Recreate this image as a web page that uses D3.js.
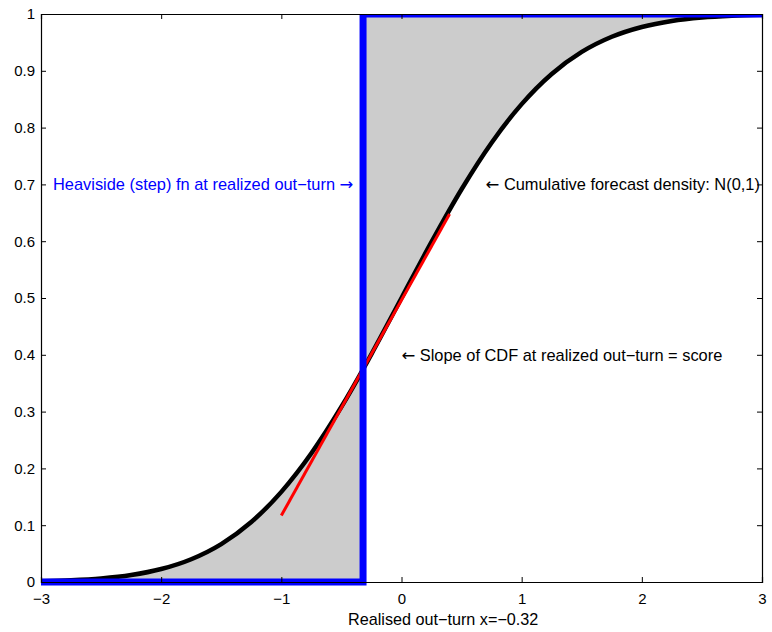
<!DOCTYPE html>
<html>
<head>
<meta charset="utf-8">
<script src="https://cdn.jsdelivr.net/npm/d3@7"></script>
<style>
  html, body { margin: 0; padding: 0; background: #fff; }
  svg { display: block; font-family: "Liberation Sans", Arial, Helvetica, sans-serif; }
  .arrow { font-family: "DejaVu Sans", sans-serif; }
</style>
</head>
<body>
<svg id="chart" width="772" height="632"></svg>
<script>
// Standard normal forecast CDF, sampled on the horizontal grid
const gridX = [-3, -2.75, -2.5, -2.25, -2, -1.75, -1.5, -1.25, -1, -0.75, -0.5, -0.25,
               0, 0.25, 0.5, 0.75, 1, 1.25, 1.5, 1.75, 2, 2.25, 2.5, 2.75, 3];
const cdfValues = [0.0013, 0.0030, 0.0062, 0.0122, 0.0228, 0.0401, 0.0668, 0.1056, 0.1587,
                   0.2266, 0.3085, 0.4013, 0.5, 0.5987, 0.6915, 0.7734, 0.8413, 0.8944,
                   0.9332, 0.9599, 0.9772, 0.9878, 0.9938, 0.9970, 0.9987];

// Realised out-turn and the forecast CDF there
const outturn = -0.32;
const cdfAtOutturn = 0.3745;

// Tangent (slope of CDF at the out-turn)
const tangentX = [-1.0, 0.4];
const tangentY = [0.117, 0.648];

// Axis ticks
const xTicks = [-3, -2, -1, 0, 1, 2, 3];
const yTicks = [0, 0.1, 0.2, 0.3, 0.4, 0.5, 0.6, 0.7, 0.8, 0.9, 1];

// Annotations: arrow glyph before/after the text
const notes = [
  { x: -2.9, y: 0.7, pre: "", text: "Heaviside (step) fn at realized out\u2212turn ", post: "\u2192", color: "#0000ff" },
  { x: 0.7,  y: 0.7, pre: "\u2190", text: " Cumulative forecast density: N(0,1)", post: "", color: "#000" },
  { x: 0.0,  y: 0.4, pre: "\u2190", text: " Slope of CDF at realized out\u2212turn = score", post: "", color: "#000" }
];
const xTitle = "Realised out\u2212turn x=\u22120.32";

const W = 772, H = 632;
const margin = { left: 41, top: 14, right: 10, bottom: 50 };
const svg = d3.select("#chart");

const x = d3.scaleLinear().domain([-3, 3]).range([margin.left, W - margin.right]);
const y = d3.scaleLinear().domain([0, 1]).range([H - margin.bottom, margin.top]);

const pts = gridX.map((v, i) => [v, cdfValues[i]]);
const leftPts = pts.filter(p => p[0] < outturn).concat([[outturn, cdfAtOutturn]]);
const rightPts = [[outturn, cdfAtOutturn]].concat(pts.filter(p => p[0] > outturn));
const allPts = leftPts.concat(rightPts.slice(1));

const curve = d3.curveMonotoneX;

// clip so thick lines stay inside the box at the top/sides
svg.append("defs").append("clipPath").attr("id", "plotclip")
  .append("rect")
  .attr("x", x(-3)).attr("y", y(1))
  .attr("width", x(3) - x(-3)).attr("height", y(0) - y(1) + 4);

const plot = svg.append("g").attr("clip-path", "url(#plotclip)");

// shaded area between the CDF and the step function
plot.append("path")
  .attr("d", d3.area().curve(curve).x(d => x(d[0])).y0(y(0)).y1(d => y(d[1]))(leftPts))
  .attr("fill", "#cccccc");
plot.append("path")
  .attr("d", d3.area().curve(curve).x(d => x(d[0])).y0(d => y(d[1])).y1(y(1))(rightPts))
  .attr("fill", "#cccccc");

// forecast CDF
plot.append("path")
  .attr("d", d3.line().curve(curve).x(d => x(d[0])).y(d => y(d[1]))(allPts))
  .attr("fill", "none").attr("stroke", "#000").attr("stroke-width", 4.5)
  .attr("stroke-linejoin", "round");

// tangent line
plot.append("path")
  .attr("d", d3.line().x(d => x(d[0])).y(d => y(d[1]))(tangentX.map((v, i) => [v, tangentY[i]])))
  .attr("fill", "none").attr("stroke", "#ff0000").attr("stroke-width", 3);

// Heaviside step at the out-turn
const stepPts = [[-3, 0], [outturn, 0], [outturn, 1], [3, 1]];
plot.append("path")
  .attr("d", d3.line().x(d => x(d[0])).y(d => y(d[1]))(stepPts))
  .attr("fill", "none").attr("stroke", "#0000ff").attr("stroke-width", 7)
  .attr("stroke-linejoin", "miter");

// axes box with ticks on all four sides
const tickLen = 5;
const fmtY = d => d3.format("~g")(d);
const fmtX = d => String(d).replace("-", "\u2212");

const axB = svg.append("g").attr("transform", `translate(0,${y(0)})`)
  .call(d3.axisBottom(x).tickValues(xTicks).tickSize(-tickLen).tickPadding(11).tickFormat(fmtX));
const axT = svg.append("g").attr("transform", `translate(0,${y(1)})`)
  .call(d3.axisTop(x).tickValues(xTicks).tickSize(-tickLen).tickFormat(""));
const axL = svg.append("g").attr("transform", `translate(${x(-3)},0)`)
  .call(d3.axisLeft(y).tickValues(yTicks).tickSize(-tickLen).tickPadding(6).tickFormat(fmtY));
const axR = svg.append("g").attr("transform", `translate(${x(3)},0)`)
  .call(d3.axisRight(y).tickValues(yTicks).tickSize(-tickLen).tickFormat(""));

[axB, axT, axL, axR].forEach(g => {
  g.select(".domain").attr("stroke", "#000").attr("stroke-width", 1.2);
  g.selectAll(".tick line").attr("stroke", "#000").attr("stroke-width", 1);
  g.selectAll(".tick text").attr("fill", "#000").style("font-size", "15px")
    .style("font-family", '"Liberation Sans", Arial, sans-serif');
});

// annotations
const noteSel = svg.append("g").selectAll("text").data(notes).join("text")
  .attr("x", d => x(d.x)).attr("y", d => y(d.y))
  .attr("dy", "0.35em")
  .attr("fill", d => d.color)
  .style("font-size", "16.4px");
noteSel.append("tspan").attr("class", "arrow").text(d => d.pre);
noteSel.append("tspan").text(d => d.text);
noteSel.append("tspan").attr("class", "arrow").text(d => d.post);

// x-axis title
svg.append("text")
  .attr("x", 348).attr("y", 625)
  .style("font-size", "16.2px")
  .text(xTitle);
</script>
</body>
</html>
